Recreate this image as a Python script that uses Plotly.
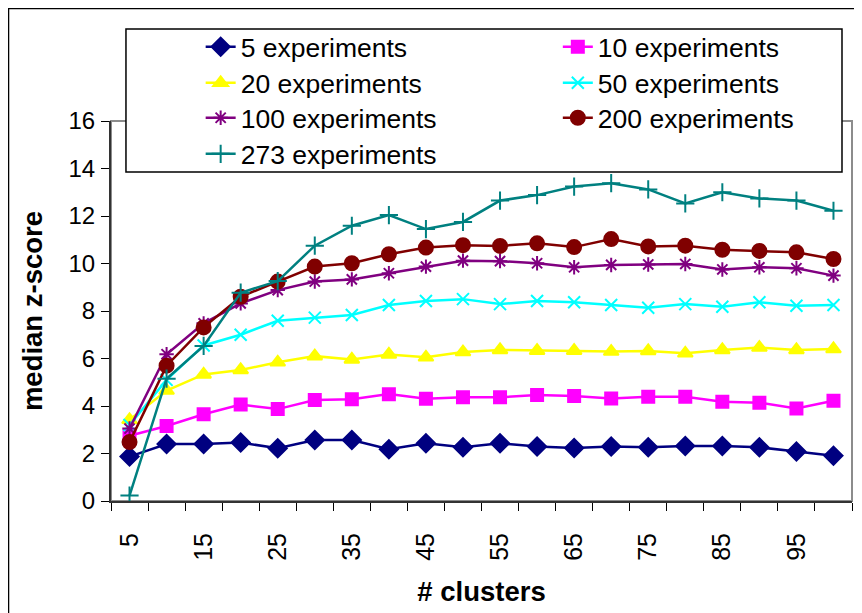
import plotly.graph_objects as go

# number of clusters (x categories) and labelled ticks
clusters = [5, 10, 15, 20, 25, 30, 35, 40, 45, 50, 55, 60, 65, 70, 75, 80, 85, 90, 95, 100]
tick_labels = [5, 15, 25, 35, 45, 55, 65, 75, 85, 95]

# median z-score per number of experiments
exp5 = [1.87, 2.40, 2.40, 2.46, 2.22, 2.57, 2.57, 2.18, 2.43, 2.26,
        2.43, 2.29, 2.23, 2.29, 2.26, 2.32, 2.32, 2.26, 2.08, 1.91]
exp10 = [2.75, 3.16, 3.65, 4.06, 3.87, 4.25, 4.28, 4.50, 4.31, 4.37,
         4.37, 4.46, 4.42, 4.32, 4.39, 4.39, 4.18, 4.14, 3.90, 4.22]
exp20 = [3.42, 4.65, 5.33, 5.52, 5.84, 6.10, 5.96, 6.17, 6.05, 6.27,
         6.36, 6.33, 6.33, 6.29, 6.32, 6.22, 6.36, 6.46, 6.36, 6.40]
exp50 = [3.20, 5.10, 6.55, 7.00, 7.59, 7.72, 7.83, 8.25, 8.42, 8.50,
         8.29, 8.42, 8.37, 8.25, 8.14, 8.29, 8.18, 8.37, 8.22, 8.25]
exp100 = [3.05, 6.18, 7.48, 8.32, 8.88, 9.24, 9.33, 9.59, 9.87, 10.12,
          10.10, 10.01, 9.84, 9.94, 9.96, 9.98, 9.75, 9.84, 9.80, 9.49]
exp200 = [2.48, 5.70, 7.31, 8.60, 9.24, 9.87, 10.01, 10.39, 10.67, 10.77,
          10.74, 10.85, 10.69, 11.03, 10.72, 10.75, 10.58, 10.53, 10.47, 10.19]
exp273 = [0.23, 5.15, 6.53, 8.77, 9.26, 10.75, 11.59, 12.04, 11.45, 11.75,
          12.65, 12.88, 13.24, 13.38, 13.12, 12.53, 13.00, 12.74, 12.65, 12.22]

FONT = "Liberation Sans, Arial, sans-serif"

# legend grid: two columns, four rows (paper coords)
col_x = [0.121, 0.603]
row_y = [1.258, 1.163, 1.071, 0.976]

# name, values, colour, symbol, size, (column, row) in the legend box
series = [
    ("5 experiments", exp5, "#000080", "diamond", 14, (0, 0)),
    ("10 experiments", exp10, "#FF00FF", "square", 12, (1, 0)),
    ("20 experiments", exp20, "#FFFF00", "triangle-up", 13, (0, 1)),
    ("50 experiments", exp50, "#00FFFF", "x-thin-open", 12, (1, 1)),
    ("100 experiments", exp100, "#800080", "asterisk-open", 12, (0, 2)),
    ("200 experiments", exp200, "#800000", "circle", 14, (1, 2)),
    ("273 experiments", exp273, "#008080", "cross-thin-open", 13, (0, 3)),
]

fig = go.Figure()
legends = {}
for i, (name, vals, color, symbol, size, (col, row)) in enumerate(series):
    leg = "legend" if i == 0 else f"legend{i + 1}"
    fig.add_trace(go.Scatter(
        x=clusters, y=vals, name=name, mode="lines+markers",
        line=dict(color=color, width=2.5),
        marker=dict(symbol=symbol, size=size, color=color,
                    line=dict(color=color, width=2)),
        legend=leg, showlegend=True,
    ))
    legends[leg] = dict(
        x=col_x[col], y=row_y[row], xanchor="left", yanchor="top",
        bgcolor="rgba(0,0,0,0)", borderwidth=0, orientation="v",
        font=dict(family=FONT, size=26.5, color="black"), itemwidth=30,
    )

fig.update_layout(
    width=862, height=613,
    margin=dict(l=103, r=18, t=113, b=120),
    showlegend=True,
    paper_bgcolor="white", plot_bgcolor="white",
    font=dict(family=FONT, color="black"),
    shapes=[
        # grey plot area frame
        dict(type="rect", xref="paper", yref="paper", x0=0, x1=1, y0=0, y1=1,
             line=dict(color="#8c8c8c", width=2), layer="below"),
        # legend box
        dict(type="rect", xref="paper", yref="paper",
             x0=0.0202, x1=0.9865, y0=0.866, y1=1.242,
             line=dict(color="black", width=1.5), fillcolor="white", layer="above"),
        # outer chart border
        dict(type="rect", xref="paper", yref="paper",
             x0=-0.1383, x1=1.05, y0=-0.4, y1=1.296,
             line=dict(color="black", width=1.5), layer="below"),
    ],
    **legends,
)

fig.update_xaxes(
    range=[2.5, 102.5], tickmode="array", tickvals=tick_labels,
    ticktext=[str(t) for t in tick_labels], tickangle=-90,
    ticks="outside", ticklen=0, ticklabelstandoff=20,
    tickfont=dict(family=FONT, size=25),
    minor=dict(tickmode="linear", tick0=2.5, dtick=5, ticks="outside",
               ticklen=8, tickcolor="black", tickwidth=1),
    showline=True, linecolor="#333333", linewidth=2,
    showgrid=False, zeroline=False,
    title=dict(text="<b># clusters</b>", font=dict(family=FONT, size=27.5), standoff=22),
)
fig.update_yaxes(
    range=[0, 16], dtick=2, ticks="outside", ticklen=8, tickcolor="black",
    tickfont=dict(family=FONT, size=24), ticklabelstandoff=1,
    showline=True, linecolor="#333333", linewidth=2,
    showgrid=False, zeroline=False,
    title=dict(text="<b>median z-score</b>", font=dict(family=FONT, size=27.5), standoff=18),
)

fig.write_html("out.html")
